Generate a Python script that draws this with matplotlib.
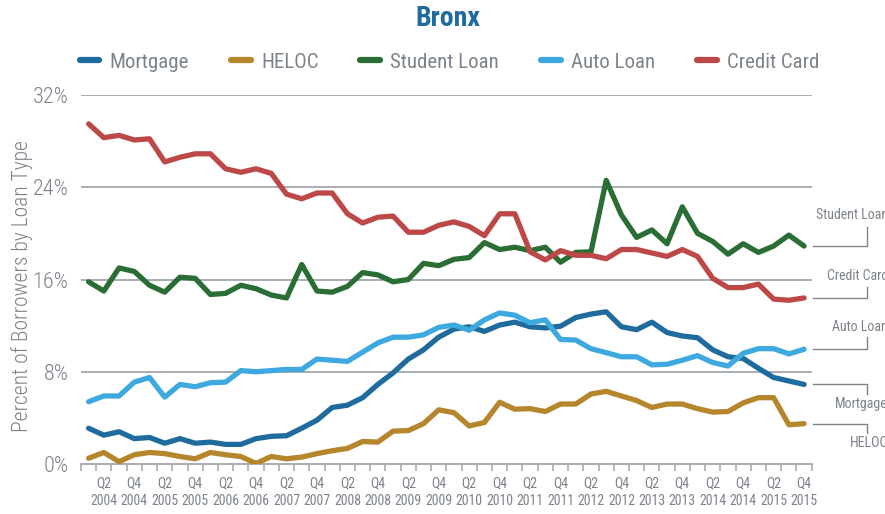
import matplotlib
matplotlib.use("Agg")
import matplotlib.pyplot as plt
from matplotlib import font_manager as fm
from matplotlib.lines import Line2D
import numpy as np

# ---------------- data ----------------
years = list(range(2004, 2016))
quarters = [f"Q{q} {y}" for y in years for q in (1, 2, 3, 4)]
series_names = ["Mortgage", "HELOC", "Student Loan", "Auto Loan", "Credit Card"]

mortgage = [3.1, 2.5, 2.8, 2.2, 2.3, 1.8, 2.2, 1.8, 1.9, 1.7, 1.7, 2.2,
            2.4, 2.45, 3.1, 3.8, 4.9, 5.1, 5.75, 6.9, 7.9, 9.1, 9.9, 11.0,
            11.7, 11.9, 11.5, 12.05, 12.3, 11.9, 11.8, 11.95, 12.7, 13.0, 13.2, 11.9,
            11.65, 12.3, 11.4, 11.1, 10.95, 9.9, 9.3, 9.15, 8.3, 7.5, 7.2, 6.9]
heloc = [0.5, 1.0, 0.2, 0.8, 1.0, 0.9, 0.65, 0.45, 1.0, 0.8, 0.65, 0.05,
         0.65, 0.45, 0.6, 0.9, 1.15, 1.35, 1.95, 1.9, 2.85, 2.9, 3.5, 4.7,
         4.45, 3.3, 3.6, 5.35, 4.75, 4.8, 4.55, 5.2, 5.2, 6.07, 6.3, 5.9,
         5.5, 4.9, 5.2, 5.2, 4.8, 4.5, 4.55, 5.3, 5.75, 5.75, 3.4, 3.5]
student = [15.8, 15.0, 17.0, 16.7, 15.5, 14.9, 16.2, 16.1, 14.7, 14.8, 15.5, 15.2,
           14.65, 14.4, 17.3, 15.0, 14.9, 15.4, 16.6, 16.4, 15.8, 16.0, 17.4, 17.2,
           17.75, 17.9, 19.2, 18.6, 18.8, 18.5, 18.8, 17.5, 18.35, 18.4, 24.6, 21.6,
           19.65, 20.3, 19.1, 22.3, 20.0, 19.3, 18.2, 19.1, 18.35, 18.9, 19.85, 18.9]
auto = [5.4, 5.9, 5.9, 7.1, 7.5, 5.8, 6.9, 6.7, 7.05, 7.1, 8.1, 8.0,
        8.1, 8.2, 8.2, 9.1, 9.0, 8.9, 9.7, 10.5, 11.0, 11.0, 11.2, 11.85,
        12.05, 11.6, 12.5, 13.1, 12.9, 12.25, 12.5, 10.8, 10.75, 10.0, 9.65, 9.3,
        9.3, 8.6, 8.65, 9.0, 9.4, 8.8, 8.5, 9.6, 10.0, 10.0, 9.55, 9.95]
credit = [29.5, 28.3, 28.5, 28.1, 28.2, 26.2, 26.6, 26.9, 26.9, 25.6, 25.3, 25.6,
          25.2, 23.4, 23.0, 23.5, 23.5, 21.7, 20.9, 21.4, 21.5, 20.1, 20.1, 20.7,
          21.0, 20.6, 19.8, 21.7, 21.7, 18.4, 17.7, 18.5, 18.1, 18.1, 17.8, 18.6,
          18.6, 18.3, 18.0, 18.6, 18.0, 16.1, 15.3, 15.3, 15.6, 14.3, 14.2, 14.4]
y_ticks = [0, 8, 16, 24, 32]

# ---------------- style ----------------
colors = ["#1f6b9e", "#b5862c", "#2a6e35", "#3ea9de", "#bd4848"]
grey = "#7d838b"
gridc = "#a3a6ab"

names = {f.name for f in fm.fontManager.ttflist}
font = "DejaVu Sans"
for cand in ["Roboto Condensed", "Liberation Sans Narrow", "Roboto"]:
    if cand in names:
        font = cand
        break
plt.rcParams["font.family"] = [font, "DejaVu Sans"]

W, H = 885, 514
fig = plt.figure(figsize=(W / 100, H / 100), dpi=100)
x0, x1, ytop, ybot = 81, 811.7, 95, 464
ax = fig.add_axes([x0 / W, (H - ybot) / H, (x1 - x0) / W, (ybot - ytop) / H])

n = len(quarters)
x = np.arange(n)
data = [mortgage, heloc, student, auto, credit]
for vals, c, name in zip(data, colors, series_names):
    ax.plot(x, vals, color=c, lw=3.8, solid_capstyle="round",
            solid_joinstyle="round", label=name, zorder=3)

ax.set_xlim(-0.5, n - 0.5)
ax.set_ylim(0, 32)
for v in y_ticks[1:]:
    ax.axhline(v, color=gridc, lw=1.3, zorder=1)
for s in ["top", "right", "left"]:
    ax.spines[s].set_visible(False)
ax.spines["bottom"].set_color(gridc)
ax.spines["bottom"].set_linewidth(1.3)

ax.set_yticks(y_ticks)
ax.set_yticklabels([f"{v}%" for v in y_ticks], fontweight="light")
ax.tick_params(axis="y", length=0, pad=9, labelsize=16, labelcolor=grey)

ax.set_xticks(np.arange(-0.5, n, 1.0))
ax.set_xticklabels([])
ax.tick_params(axis="x", which="major", length=5, width=1.1, color=gridc)
lab_idx = [i for i in range(n) if quarters[i].startswith(("Q2", "Q4"))]
ax.set_xticks(lab_idx, minor=True)
ax.set_xticklabels([quarters[i].replace(" ", "\n") for i in lab_idx], minor=True)
ax.tick_params(axis="x", which="minor", length=0, pad=9, labelsize=10,
               labelcolor=grey)
for t in ax.get_xticklabels(minor=True):
    t.set_linespacing(1.35)

ax.set_ylabel("Percent of Borrowers by Loan Type", fontsize=15.5, color=grey,
              fontweight="light")
ax.yaxis.set_label_coords((33 - x0) / (x1 - x0), (ybot - 286) / (ybot - ytop))

# right-hand labels with leader lines
px_per_unit = (ybot - ytop) / 32.0
leader = {  # (vertical leader px, label offset px), + = up
    "Student Loan": (19, 31),
    "Credit Card": (11, 22),
    "Auto Loan": (12, 22),
    "Mortgage": (-10, -20),
    "HELOC": (-9, -19),
}
cat_w = (x1 - x0) / n
xa = n - 0.5 + 0.1
xb = (867 - x0) / cat_w - 0.5
for vals, name in zip(data, series_names):
    yl = vals[-1]
    dv, dl = leader[name]
    ax.plot([xa, xb, xb], [yl, yl, yl + dv / px_per_unit], color=grey, lw=1.0,
            clip_on=False, zorder=2)
    ax.text((888 - x0) / cat_w - 0.5, yl + dl / px_per_unit, name,
            ha="right", va="center", fontsize=10, color=grey, clip_on=False)

# legend
handles = [Line2D([0], [0], color=c, lw=4.5, solid_capstyle="round") for c in colors]
fig.legend(handles, series_names, loc="center", ncol=5,
           bbox_to_anchor=(449.5 / W, 1 - 62 / H), frameon=False, fontsize=15,
           handlelength=0.95, handletextpad=0.5, columnspacing=2.0,
           labelcolor=grey)

fig.text(448 / W, 1 - 18 / H, "Bronx", ha="center", va="center", fontsize=20,
         fontweight="bold", color="#1f6b9e")

fig.savefig("out.png", dpi=100)
